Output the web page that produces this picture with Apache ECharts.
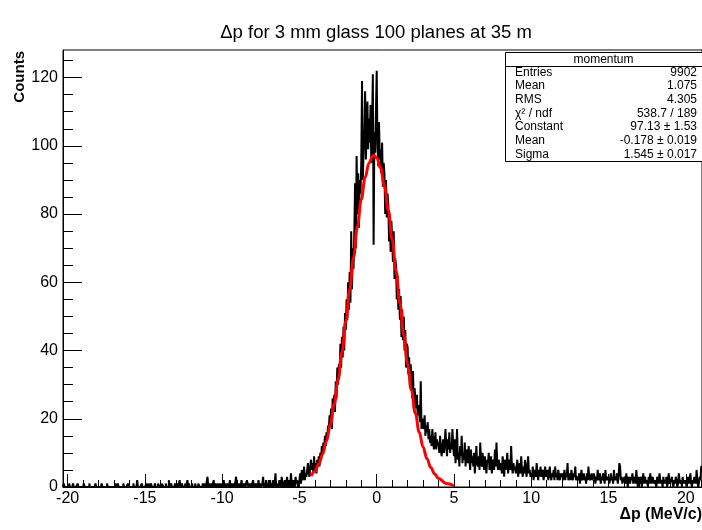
<!DOCTYPE html>
<html>
<head>
<meta charset="utf-8">
<script src="https://cdn.jsdelivr.net/npm/echarts@6/dist/echarts.min.js"></script>
<style>
html,body{margin:0;padding:0;background:#fff;}
#chart{width:702px;height:530px;}
</style>
</head>
<body>
<div id="chart"></div>
<script>
// ---- data ----
const binStart = -20.3;
const binWidth = 0.05;
// counts per 0.05 bin, -20.3 .. -4.0
const countsLeftTail = [
  0,1,0,0,0,0,
  0,0,1,0,0,0,0,1,0,0,0,0,0,1,0,0,0,0,0,0,
  0,1,0,0,0,0,0,0,1,0,0,0,0,0,0,0,1,0,0,0,
  0,0,0,0,1,0,0,0,0,0,0,1,0,0,0,0,0,0,0,0,
  0,0,1,0,0,1,0,0,0,0,0,0,1,0,0,0,0,0,1,0,
  0,0,0,0,0,1,0,0,0,0,2,0,0,0,0,0,1,0,0,0,
  0,0,1,0,0,1,0,0,1,0,0,0,0,1,0,0,0,1,1,0,
  0,0,1,1,0,0,0,1,0,0,0,2,0,0,1,0,0,0,0,1,
  0,0,1,0,0,2,0,0,1,0,0,0,1,0,0,2,0,1,0,0,
  0,1,0,0,0,1,0,0,0,1,1,0,0,0,0,1,0,0,1,0,
  0,3,0,1,0,0,1,0,0,2,0,1,0,0,1,0,0,1,0,0,
  1,0,2,0,1,0,0,1,1,0,2,0,0,1,0,1,0,0,3,0,
  1,0,0,1,0,2,0,1,0,1,0,0,2,1,0,1,0,1,0,0,
  2,0,1,0,1,1,0,2,0,1,0,0,1,3,0,1,0,2,0,1,
  0,1,2,0,1,0,2,0,1,4,0,1,1,0,2,1,0,3,1,0,
  1,2,0,1,3,0,1,2,0,4,1,0,2,1,0,3,1,2,0,1,
  2,4,1,5,2,3,6,2,4,3,5,7,4,3,6,8,5,7,4,9
];
// counts per 0.05 bin, -4.0 .. 5.0
const countsCore = [
  5,7,4,8,6,  9,6,10,8,12,  10,13,11,15,12,  16,14,18,17,21,
  19,23,17,26,22,  27,22,31,26,35,  30,36,33,42,35,  44,38,47,40,51,
  46,55,49,60,52,  63,54,75,58,70,  64,74,89,70,97,  80,92,76,90,86,
  95,119,90,98,102,  116,96,104,113,99,  108,101,112,95,106,  121,71,104,98,110,
  122,100,94,107,96,  99,92,101,88,95,  92,80,90,79,86,  83,72,80,69,78,
  73,66,75,61,67,  65,55,62,52,58,  49,56,44,52,43,  50,40,46,35,42,
  41,33,38,29,36,  32,26,34,23,29,  26,23,27,21,24,  22,19,31,17,20,
  20,17,21,15,18,  16,19,14,17,13,  15,12,17,14,11,  13,16,11,14,12,
  13,10,15,12,9,  11,14,10,13,17,  12,9,14,11,16,  10,13,11,17,12
];
// counts per 0.05 bin, 5.0 .. 21.05
const countsRightTail = [
  9,14,7,11,17,8,10,6,12,9,15,7,10,8,13,6,11,9,7,12,
  8,5,11,7,9,6,10,4,8,12,7,6,9,5,13,8,6,10,7,5,
  9,6,4,8,7,10,5,6,9,4,7,8,5,11,6,13,7,5,8,6,
  5,7,4,9,6,3,8,5,7,10,4,6,8,5,12,6,4,7,5,6,
  4,6,8,3,5,7,4,9,5,3,6,4,8,5,3,6,9,4,5,3,
  4,3,6,2,5,4,3,7,4,2,5,3,6,4,3,5,2,4,6,3,
  3,5,2,4,6,3,2,4,3,5,2,6,3,4,2,5,3,2,4,3,
  4,2,3,5,2,4,3,7,2,3,4,2,5,3,2,4,3,6,2,3,
  3,2,4,1,3,5,2,3,4,2,3,1,4,2,6,3,2,3,4,2,
  2,4,3,1,3,2,5,2,3,4,1,3,2,4,3,1,5,2,3,2,
  3,1,2,4,2,3,1,5,2,3,2,4,1,3,7,6,2,3,1,2,
  2,3,1,4,2,0,3,2,1,3,2,4,1,2,3,1,5,2,0,3,
  1,2,3,0,2,4,1,3,2,1,2,0,3,1,4,2,1,3,2,1,
  2,1,0,3,2,1,4,2,1,2,0,3,1,2,1,3,0,2,4,1,
  1,2,3,1,0,2,1,3,2,0,1,4,2,1,2,0,3,1,2,1,
  2,0,1,3,1,2,4,1,0,2,1,3,2,1,5,2,0,1,3,2,
  6
];
// red fit curve
const fitX = [-4.25,-4.0,-3.75,-3.5,-3.25,-3.0,-2.75,-2.5,-2.25,-2.0,-1.75,-1.5,-1.25,-1.0,-0.75,-0.5,-0.25,-0.178,0,0.25,0.5,0.75,1.0,1.25,1.5,1.75,2.0,2.25,2.5,2.75,3.0,3.25,3.5,3.75,4.0,4.5,5.0];
const fitY = [3.2,4.6,6.7,9.6,13.5,18.3,24.3,31.4,39.5,48.5,57.9,67.3,76.4,84.3,90.7,95.0,97.0,97.13,96.5,93.5,88.2,81.1,72.6,63.4,53.8,44.6,36.0,28.3,21.6,16.1,11.7,8.3,5.7,3.8,2.5,1.0,0.35];

const xMajorTicks = [-20,-15,-10,-5,0,5,10,15,20];
const xMinorTicks = [-20,-19,-18,-17,-16,-15,-14,-13,-12,-11,-10,-9,-8,-7,-6,-5,-4,-3,-2,-1,0,1,2,3,4,5,6,7,8,9,10,11,12,13,14,15,16,17,18,19,20,21];
const yMajorTicks = [0,20,40,60,80,100,120];
const yMinorTicks = [0,5,10,15,20,25,30,35,40,45,50,55,60,65,70,75,80,85,90,95,100,105,110,115,120,125];
const xMin = -20.3, xMax = 21.05, yMin = 0, yMax = 128.1;

const titleText = 'Δp for 3 mm glass 100 planes at 35 m';
const xTitle = 'Δp (MeV/c)';
const yTitle = 'Counts';
const statsName = 'momentum';
const statsLabels = ['Entries','Mean','RMS','χ² / ndf','Constant','Mean','Sigma'];
const statsValues = ['9902','1.075','4.305','538.7 / 189','97.13 ± 1.53','-0.178 ± 0.019','1.545 ± 0.017'];

// ---- build ----
const counts = countsLeftTail.concat(countsCore, countsRightTail);
const histData = counts.map((c, i) => [+(binStart + i * binWidth).toFixed(3), c]);
histData.push([+(binStart + counts.length * binWidth).toFixed(3), counts[counts.length - 1]]);
const fitData = fitX.map((x, i) => [x, fitY[i]]);

const FONT = '"Liberation Sans", Arial, Helvetica, sans-serif';
const chart = echarts.init(document.getElementById('chart'), null, {renderer: 'canvas'});

const box = {x: 505, y: 52, w: 197, h: 109};
const rowH = box.h / 8;
const graphic = [
  {type: 'text', x: 376, y: 33, style: {text: titleText, x: 0, y: 0, fill: '#000', fontSize: 18.5, fontFamily: FONT, align: 'center', verticalAlign: 'middle', textAlign: 'center', textVerticalAlign: 'middle'}},
  {type: 'text', x: 20, y: 51, rotation: Math.PI / 2, style: {text: yTitle, x: 0, y: 0, fill: '#000', fontSize: 15, fontWeight: 'bold', fontFamily: FONT, align: 'right', verticalAlign: 'middle', textAlign: 'right', textVerticalAlign: 'middle'}},
  {type: 'text', x: 702, y: 515, style: {text: xTitle, x: 0, y: 0, fill: '#000', fontSize: 16, fontWeight: 'bold', fontFamily: FONT, align: 'right', verticalAlign: 'middle', textAlign: 'right', textVerticalAlign: 'middle'}},
  {type: 'rect', z: 100, shape: {x: box.x + 0.5, y: box.y + 0.5, width: box.w, height: box.h}, style: {fill: '#fff', stroke: '#000', lineWidth: 1}},
  {type: 'line', z: 101, shape: {x1: box.x, y1: Math.round(box.y + rowH) + 0.5, x2: box.x + box.w, y2: Math.round(box.y + rowH) + 0.5}, style: {stroke: '#000', lineWidth: 1}},
  {type: 'text', z: 101, x: box.x + box.w / 2, y: box.y + rowH / 2 + 0.5, style: {text: statsName, x: 0, y: 0, fill: '#000', fontSize: 12, fontFamily: FONT, align: 'center', verticalAlign: 'middle', textAlign: 'center', textVerticalAlign: 'middle'}}
];
statsLabels.forEach((lab, i) => {
  const cy = box.y + rowH * (i + 1.5);
  graphic.push({type: 'text', z: 101, x: box.x + 10, y: cy, style: {text: lab, x: 0, y: 0, fill: '#000', fontSize: 12, fontFamily: FONT, align: 'left', verticalAlign: 'middle', textAlign: 'left', textVerticalAlign: 'middle'}});
  graphic.push({type: 'text', z: 101, x: box.x + box.w - 5, y: cy, style: {text: statsValues[i], x: 0, y: 0, fill: '#000', fontSize: 12, fontFamily: FONT, align: 'right', verticalAlign: 'middle', textAlign: 'right', textVerticalAlign: 'middle'}});
});

const option = {
  animation: false,
  backgroundColor: '#fff',
  grid: {left: 63, right: 0, top: 50, bottom: 43, show: true, borderColor: '#000', borderWidth: 1, backgroundColor: 'transparent'},
  xAxis: [
    {type: 'value', min: xMin, max: xMax, position: 'bottom',
     axisLine: {show: true, onZero: false, lineStyle: {color: '#000', width: 1}},
     axisTick: {show: true, inside: true, length: 13, customValues: xMajorTicks, lineStyle: {color: '#000', width: 1}},
     axisLabel: {show: true, customValues: xMajorTicks, color: '#000', fontSize: 16, fontFamily: FONT, margin: 4},
     splitLine: {show: false}},
    {type: 'value', min: xMin, max: xMax, position: 'bottom',
     axisLine: {show: false, onZero: false},
     axisTick: {show: true, inside: true, length: 7, customValues: xMinorTicks, lineStyle: {color: '#000', width: 1}},
     axisLabel: {show: false},
     splitLine: {show: false}}
  ],
  yAxis: [
    {type: 'value', min: yMin, max: yMax, position: 'left',
     axisLine: {show: true, onZero: false, lineStyle: {color: '#000', width: 1}},
     axisTick: {show: true, inside: true, length: 19, customValues: yMajorTicks, lineStyle: {color: '#000', width: 1}},
     axisLabel: {show: true, customValues: yMajorTicks, color: '#000', fontSize: 16, fontFamily: FONT, margin: 5},
     splitLine: {show: false}},
    {type: 'value', min: yMin, max: yMax, position: 'left',
     axisLine: {show: false, onZero: false},
     axisTick: {show: true, inside: true, length: 10, customValues: yMinorTicks, lineStyle: {color: '#000', width: 1}},
     axisLabel: {show: false},
     splitLine: {show: false}}
  ],
  series: [
    {type: 'line', xAxisIndex: 0, yAxisIndex: 0, data: histData, step: 'end', symbol: 'none',
     lineStyle: {color: '#000', width: 2}, z: 3, silent: true},
    {type: 'line', xAxisIndex: 0, yAxisIndex: 0, data: fitData, smooth: 0.4, smoothMonotone: 'x', symbol: 'none',
     lineStyle: {color: '#ff0000', width: 3}, z: 4, silent: true}
  ],
  graphic: graphic
};
chart.setOption(option);
</script>
</body>
</html>
